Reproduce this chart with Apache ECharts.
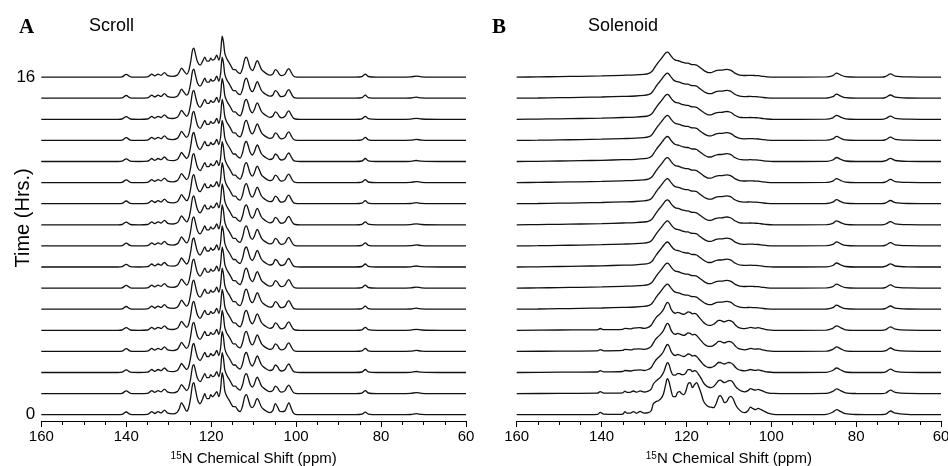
<!DOCTYPE html>
<html>
<head>
<meta charset="utf-8">
<script src="https://cdn.jsdelivr.net/npm/echarts@6/dist/echarts.min.js"></script>
<style>html,body{margin:0;padding:0;background:#fff}#c{width:948px;height:466px}</style>
</head>
<body>
<div id="c"></div>
<script>
// ---- Data (ppm, intensity in a.u.) ----
var hours = [0,1,2,3,4,5,6,7,8,9,10,11,12,13,14,15,16];
var xTicks = [160,140,120,100,80,60];
var yTickLabels = ['0','16'];
var OFFSET = 21.1; // vertical stacking per hour (a.u.)

// Panel A (Scroll), t = 0
var scrollT0 = [[160,0],[150,0],[142,0],[141,0.3],[140,2.7],[139,0.3],[137,0],[135,0.3],[134.5,1.5],[134,3],[133.3,1.2],[132.5,3],[131.8,1.8],[131,4.5],[130.2,1.5],[129,0.8],[128,2.5],[127.5,6],[127,12],[126.4,8],[125.8,3.5],[125.3,7],[124.8,18],[124.4,30],[124.1,32],[123.7,25],[123.2,15],[122.6,11],[122,16],[121.5,21],[121,16],[120.5,16],[120.1,20],[119.7,18],[119.2,20],[118.7,23],[118.2,18],[117.8,25],[117.4,42],[117.1,36],[116.8,24],[116.4,19],[116,16],[115.5,12.5],[115.2,10],[114.8,8],[114.3,8],[113.8,5],[113.2,3],[112.6,9],[112.1,18],[111.7,20],[111.3,16],[110.8,9],[110.3,7],[109.8,10],[109.4,15],[109.1,16],[108.7,13],[108.2,8],[107.8,6],[107,3.5],[106.2,2],[105.5,4],[104.9,11],[104.4,8],[103.9,3.5],[103.4,3],[102.6,4],[102.1,9],[101.7,12],[101.2,7],[100.7,2],[100.2,0.3],[99,0],[90,0],[86,0],[84.5,0.5],[83.7,2.5],[83,0.6],[81,0],[76,0],[73,0.2],[71.7,1],[70.5,0.3],[66,0],[60,0]];
// Panel A (Scroll), t = 1..16
var scrollLater = [[160,0],[150,0],[142,0],[141,0.3],[140,2.7],[139,0.3],[137,0],[135,0.3],[134.5,1.5],[134,3],[133.3,1.2],[132.5,3],[131.8,1.8],[131,4.5],[130.2,1.5],[129,0.8],[128,2],[127.5,5],[127,9],[126.4,6],[125.8,3],[125.3,6],[124.8,16],[124.4,27],[124.1,29],[123.7,23],[123.2,15],[122.6,12],[122,16],[121.5,20],[121,16],[120.5,16],[120.1,19],[119.7,17],[119.2,18],[118.7,22],[118.2,17],[117.8,24],[117.4,41],[117.1,35],[116.8,24],[116.4,19],[116,16],[115.5,12.5],[115.2,10],[114.8,7.5],[114.3,7.5],[113.8,5],[113.2,3.5],[112.6,9],[112.1,18],[111.7,20],[111.3,16],[110.8,9],[110.3,6.5],[109.8,10],[109.4,15],[109.1,16.5],[108.7,13],[108.2,8],[107.8,6],[107,3.5],[106.2,2],[105.5,3],[104.9,7.5],[104.4,6],[103.9,2.5],[103.4,1.5],[102.6,3],[102.1,7],[101.7,8.5],[101.2,5],[100.7,1.5],[100.2,0.3],[99,0],[90,0],[86,0],[84.5,0.5],[83.7,3],[83,0.6],[81,0],[76,0],[73,0.2],[71.7,1],[70.5,0.3],[66,0],[60,0]];

// Panel B (Solenoid)
var solT0 = [[160,0],[150,0],[145,0],[141,0.3],[140.3,2.3],[139.5,0.5],[136,0.3],[135,0.5],[134.5,3],[134,1.5],[133.3,1.5],[132.5,3],[131.7,1.5],[130.9,3.3],[130,1.5],[129,2],[128.3,4],[127.8,11],[127.2,13],[126.6,14],[126,16],[125.4,21],[124.9,30],[124.5,36],[124.1,33],[123.6,24],[123.1,18],[122.6,18],[122.1,22],[121.6,23],[121.1,21],[120.6,20],[120.1,24],[119.6,31],[119.1,32],[118.6,27],[118.1,30],[117.6,32],[117.1,28],[116.5,21],[116,14],[115.4,10],[114.8,8],[114.2,7.5],[113.6,7],[113,11],[112.4,18],[112,19],[111.5,16],[111,12],[110.5,13],[110,17],[109.5,18.3],[109,16],[108.4,10],[107.8,6],[107,3],[106.2,2],[105.5,4],[104.9,7.5],[104.3,6],[103.7,5],[103.1,6.3],[102.4,5],[101.7,3.5],[100.8,1.5],[99.5,0.3],[96,0],[90,0],[87,0.3],[85.5,2.5],[84.6,5],[83.6,3],[82.5,1],[80,0.2],[75,0],[73,0.5],[71.9,3.7],[70.8,1.5],[68,0.3],[64,0],[60,0]];
var solT1 = [[160,0],[150,0.2],[141,0.4],[140.3,2],[139.5,0.5],[135,0.8],[134.5,2.5],[134,1.3],[133.3,1.3],[132.5,2.6],[131.7,1.4],[130.9,2.8],[130,1.6],[129,2.5],[128.3,4.5],[127.8,9.5],[127.2,12.5],[126.6,14.5],[126,17],[125.4,21],[124.9,27],[124.5,31],[124.1,29],[123.6,22],[123.1,18.5],[122.6,18.5],[122.1,20],[121.6,20],[121.1,19],[120.6,19],[120.1,21],[119.6,24],[119.1,24],[118.6,22],[118.1,23],[117.6,22],[117.1,19],[116.5,15],[116,11],[115.4,8],[114.8,6.5],[114.2,6],[113.6,7],[113,10],[112.4,13],[112,13.5],[111.5,12],[111,11],[110.5,12],[110,13],[109.5,13],[109,11],[108.4,7],[107.8,4.5],[107,2.5],[106.2,1.8],[105.5,3],[104.9,5],[104.3,4],[103.7,3.5],[103.1,4.2],[102.4,3.2],[101.7,2],[100.8,0.8],[99.5,0.2],[96,0],[87,0.2],[85.5,2.2],[84.6,4.8],[83.6,2.8],[82.5,0.8],[80,0.1],[74,0],[73,0.6],[71.9,3.5],[70.8,1.3],[68,0.2],[60,0]];
var solT2to4 = [[160,0],[150,0.3],[141,0.5],[140.3,1.8],[139.5,0.6],[135,1],[134.5,2],[133,1.5],[132.5,2.2],[131,2.6],[130,2],[129,3],[128.3,5],[127.8,8.5],[127.2,12.5],[126.6,15],[126,17.5],[125.4,21],[124.9,25.5],[124.5,28],[124.1,26.5],[123.6,21],[123.1,18],[122.6,17],[122.1,18],[121.6,17.5],[121.1,16.5],[120.6,16],[120.1,17],[119.6,18.5],[119.1,18],[118.6,16.5],[118.1,17],[117.6,16],[117.1,13.5],[116.5,10.5],[116,8],[115.4,6],[114.8,5],[114.2,5],[113.6,6],[113,8],[112.4,10],[112,10],[111.5,9],[111,8.5],[110.5,9.5],[110,10],[109.5,9.5],[109,8],[108.4,5],[107.8,3],[107,2],[106.2,1.6],[105.5,2.2],[104.9,3],[104.3,2.5],[103.7,2.2],[103.1,2.6],[102.4,2],[101.7,1.2],[100.8,0.5],[99.5,0],[87,0.2],[85.5,2],[84.6,4.5],[83.6,2.5],[82.5,0.5],[80,0],[74,0],[73,0.7],[71.9,3.4],[70.8,1.2],[68,0.2],[60,0]];
var solLater = [[160,0],[155,0.2],[150,0.5],[145,0.8],[140,1.2],[135,1.8],[132,2.2],[130,2.8],[129,3.5],[128.3,5],[127.8,7.5],[127.2,11.5],[126.6,15],[126,18],[125.4,21.5],[124.9,24],[124.5,25],[124.1,24],[123.6,21],[123.1,18.5],[122.6,17],[122.1,16.5],[121.6,16],[121.1,15],[120.6,14.5],[120.1,14],[119.6,14],[119.1,13],[118.6,12.5],[118.1,12.5],[117.6,12],[117.1,10.5],[116.5,8.5],[116,7],[115.4,5.5],[114.8,4.5],[114.2,4.5],[113.6,5.5],[113,6.5],[112.4,7],[111.7,7],[111,7.5],[110.4,7.8],[109.8,7.3],[109.2,6],[108.6,4],[107.8,2.5],[107,1.8],[106,1.6],[105,1.8],[104,1.6],[103,1.4],[102,0.8],[101,0.3],[99.5,0],[87,0.2],[85.5,1.5],[84.6,4],[83.6,2],[82.5,0.5],[80,0],[74,0],[73,0.8],[71.9,3.2],[70.8,1],[68,0.2],[60,0]];

function scrollFor(h){ return h === 0 ? scrollT0 : scrollLater; }
function solFor(h){ return h === 0 ? solT0 : (h === 1 ? solT1 : (h <= 4 ? solT2to4 : solLater)); }

var chart = echarts.init(document.getElementById('c'), null, {renderer:'canvas'});
var font = 'Liberation Sans, Arial, Helvetica, sans-serif';
var lineStyle = {color:'#111', width:1.3};

function xAxisFor(idx){
  return {
    gridIndex: idx, type:'value', min:60, max:160, interval:20, inverse:true,
    axisLine:{show:true, onZero:false, lineStyle:{color:'#000', width:1}},
    axisTick:{show:true, length:6, lineStyle:{color:'#000'}},
    minorTick:{show:true, splitNumber:4, length:4, lineStyle:{color:'#000'}},
    splitLine:{show:false},
    axisLabel:{color:'#000', fontSize:15, fontFamily:font, margin:8, hideOverlap:false,
      formatter:function(v){ return xTicks.indexOf(v) >= 0 ? String(v) : ''; }},
    name:'{sup|15}N Chemical Shift (ppm)', nameLocation:'middle', nameGap:30, nameMoveOverlap:false,
    nameTextStyle:{color:'#000', fontSize:15, fontFamily:font,
      rich:{sup:{fontSize:10, fontFamily:font, color:'#000', verticalAlign:'top', padding:[0,0,6,0]}}}
  };
}

var series = [];
hours.forEach(function(h){
  series.push({type:'line', xAxisIndex:0, yAxisIndex:0, showSymbol:false, smooth:0.3, silent:true,
    lineStyle:lineStyle, animation:false,
    data: scrollFor(h).map(function(p){ return [p[0], h*OFFSET + p[1]]; })});
  series.push({type:'line', xAxisIndex:1, yAxisIndex:1, showSymbol:false, smooth:0.3, silent:true,
    lineStyle:lineStyle, animation:false,
    data: solFor(h).map(function(p){ return [p[0], h*OFFSET + p[1]]; })});
});

chart.setOption({
  animation:false,
  backgroundColor:'#fff',
  title:[
    {text:'A', left:14, top:12, textStyle:{fontFamily:'Liberation Serif, Times New Roman, serif', fontWeight:'bold', fontSize:21, color:'#000'}},
    {text:'Scroll', left:84, top:12, textStyle:{fontFamily:font, fontWeight:'normal', fontSize:18, color:'#000'}},
    {text:'B', left:487, top:12, textStyle:{fontFamily:'Liberation Serif, Times New Roman, serif', fontWeight:'bold', fontSize:21, color:'#000'}},
    {text:'Solenoid', left:583, top:12, textStyle:{fontFamily:font, fontWeight:'normal', fontSize:18, color:'#000'}}
  ],
  grid:[
    {left:41.3, right:482, top:14.7, bottom:45, containLabel:false, outerBoundsMode:'none'},
    {left:516.7, right:7, top:14.7, bottom:45, containLabel:false, outerBoundsMode:'none'}
  ],
  xAxis:[xAxisFor(0), xAxisFor(1)],
  yAxis:[
    {gridIndex:0, type:'value', min:-6.3, max:400,
      axisLine:{show:false}, axisTick:{show:false}, splitLine:{show:false},
      axisLabel:{show:true, color:'#000', fontSize:17, fontFamily:font, margin:6,
        customValues:[0, 16*OFFSET],
        formatter:function(v){ return v === 0 ? yTickLabels[0] : yTickLabels[1]; }},
      name:'Time (Hrs.)', nameLocation:'middle', nameGap:8, nameRotate:90, nameMoveOverlap:false,
      nameTextStyle:{color:'#000', fontSize:20, fontFamily:font}},
    {gridIndex:1, type:'value', min:-6.3, max:400, show:false}
  ],
  series: series
});
</script>
</body>
</html>
